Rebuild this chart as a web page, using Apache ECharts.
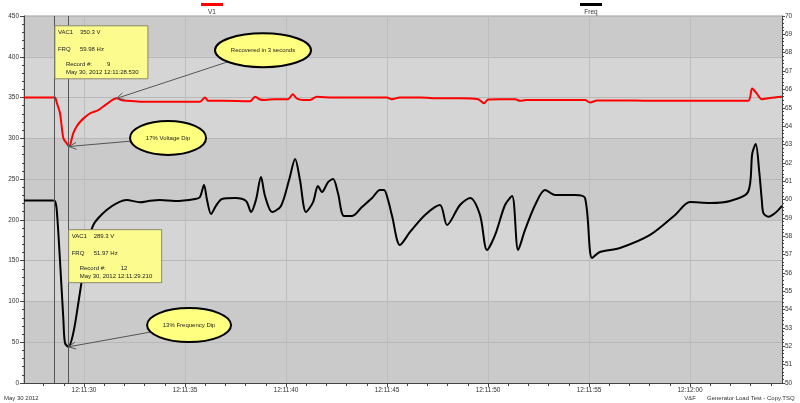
<!DOCTYPE html>
<html><head><meta charset="utf-8">
<script src="https://cdn.jsdelivr.net/npm/echarts@6/dist/echarts.min.js"></script>
<style>html,body{margin:0;padding:0;background:#fff}#c{width:800px;height:403px}</style>
</head><body><div id="c"></div>
<script>
// time values are seconds after 12:11:00 on May 30 2012
const xTickValues = [30, 35, 40, 45, 50, 55, 60];
const xTickLabels = ['12:11:30', '12:11:35', '12:11:40', '12:11:45', '12:11:50', '12:11:55', '12:12:00'];
const xMinorTicks = [28,29,31,32,33,34,36,37,38,39,41,42,43,44,46,47,48,49,51,52,53,54,56,57,58,59,61,62,63,64];
const seriesNames = ['V1', 'Freq'];

const v1Times = [27.03,28.42,28.56,28.66,28.81,28.98,29.14,29.26,29.47,29.65,29.80,30.05,30.30,30.71,31.12,31.62,31.83,32.11,32.77,33.76,34.75,35.74,35.99,36.14,36.88,38.22,38.47,38.71,38.96,39.46,40.10,40.33,40.53,40.84,41.19,41.52,42.33,43.66,45.00,45.23,45.64,46.63,47.62,48.61,49.50,49.80,50.00,50.59,51.34,51.58,51.88,52.57,53.56,54.80,55.05,55.40,56.53,58.02,59.50,60.99,62.87,63.07,63.27,63.55,63.96,64.55];
const v1Values = [350,350,350,343,331,300,294,290,306.5,315,320,326,330.7,334.7,342,349,347,346,345,345,345,345,350,346,346,345.5,351,347.6,347,348,348,354,349,347,347,351,350,350,350,348,350,350,349,349,348,343,347.6,348,348,346,347,347,347,347,344,346.4,346.5,346,346,346,346,361,356,348,349.5,351];

const freqTimes = [27.03,28.42,28.56,28.65,28.81,28.98,29.06,29.23,29.47,29.72,29.97,30.21,30.46,30.71,31.12,31.61,32.11,32.77,33.27,33.76,34.50,35.50,35.74,35.94,36.09,36.29,36.53,36.83,37.48,38.02,38.27,38.51,38.76,38.96,39.31,39.75,40.15,40.45,40.69,40.99,41.34,41.58,41.78,42.08,42.33,42.57,42.87,43.27,43.76,44.26,44.65,44.85,45.05,45.25,45.64,46.14,46.88,47.62,47.97,48.61,49.11,49.60,49.95,50.35,50.84,51.19,51.49,51.83,52.33,52.82,53.32,54.31,54.80,55.15,55.54,56.53,58.02,59.26,60.00,60.99,61.98,62.87,63.08,63.25,63.43,63.55,63.63,63.88,64.21,64.55];
const freqValues = [59.95,59.95,59.92,59.43,56.70,53.43,52.18,51.97,52.72,54.36,56.16,57.79,58.61,58.99,59.43,59.79,59.97,59.85,59.93,59.97,59.92,60.03,60.14,60.79,59.97,59.21,59.65,60.03,60.08,59.92,59.32,59.97,61.23,60.19,59.32,59.65,61.06,62.21,61.06,59.32,59.86,60.74,60.41,60.95,61.12,60.35,59.10,59.10,59.59,60.08,60.52,60.52,59.97,59.10,57.52,58.23,59.16,59.70,58.61,59.70,60.08,59.16,57.25,58.07,59.70,60.19,57.25,58.34,59.70,60.52,60.25,60.25,60.08,56.81,57.14,57.36,58.07,59.16,59.86,59.81,59.92,60.41,62.53,63.02,61.44,59.97,59.26,59.06,59.26,59.65];

const cursorTimes = [28.53, 29.21];
const readouts = [
  { vac: '350.3 V', frq: '59.98 Hz', rec: '9', stamp: 'May 30, 2012 12:11:28.530', at: [28.56, 438] },
  { vac: '289.3 V', frq: '51.97 Hz', rec: '12', stamp: 'May 30, 2012 12:11:29.210', at: [29.24, 188] }
];
const callouts = [
  { text: 'Recovered in 3 seconds', center: [38.86, 408], rx: 48, ry: 17, target: [31.62, 349], axis: 0 },
  { text: '17% Voltage Dip', center: [34.16, 300.5], rx: 38, ry: 17, target: [29.26, 290], axis: 0 },
  { text: '13% Frequency Dip', center: [35.2, 71], rx: 42, ry: 17, target: [29.23, 51.97], axis: 1 }
];
const legendColors = ['#ff0000', '#000000'];

const FONT = 'Liberation Sans';
const chart = echarts.init(document.getElementById('c'), null, { renderer: 'canvas' });

function zip(a, b) { return a.map((t, i) => [t, b[i]]); }

const labelStyle = { fontFamily: FONT, fontSize: 6.5, color: '#333' };
const DARK = '#cacaca', LIGHT = '#d5d5d5';

chart.setOption({
  animation: false,
  backgroundColor: '#ffffff',
  grid: { left: 24, right: 18, top: 16, bottom: 20, outerBoundsMode: 'none', containLabel: false,
    show: true, borderColor: '#9a9a9a', borderWidth: 1, backgroundColor: '#d2d2d2' },
  xAxis: [
    { type: 'value', min: 27.03, max: 64.55,
      axisLine: { lineStyle: { color: '#444' } },
      axisTick: { customValues: xTickValues, length: 4, lineStyle: { color: '#444' } },
      axisLabel: { customValues: xTickValues, ...labelStyle, margin: 4,
        formatter: v => xTickLabels[xTickValues.indexOf(Math.round(v))] || '' },
      splitLine: { show: true, lineStyle: { color: '#bdbdbd', width: 1 } } },
    { type: 'value', min: 27.03, max: 64.55, position: 'bottom',
      axisLine: { show: false },
      axisTick: { customValues: xMinorTicks, length: 3, lineStyle: { color: '#444' } },
      axisLabel: { show: false }, splitLine: { show: false } }
  ],
  yAxis: [
    { type: 'value', min: 0, max: 450, interval: 50, name: 'Voltage AC (V)', nameLocation: 'middle', nameGap: 16,
      nameTextStyle: { fontFamily: FONT, fontSize: 6.5, color: '#333' },
      axisLine: { show: true, lineStyle: { color: '#444' } },
      axisTick: { show: true, length: 4, lineStyle: { color: '#444' } },
      minorTick: { show: true, splitNumber: 5, length: 2, lineStyle: { color: '#444' } },
      axisLabel: { ...labelStyle, margin: 5 },
      splitLine: { show: true, lineStyle: { color: '#b8b8b8' } },
      splitArea: { show: true, areaStyle: { color: [DARK, DARK, LIGHT, LIGHT] } } },
    { type: 'value', min: 50, max: 70, interval: 1, name: 'Frequency (Hz)', nameLocation: 'middle', nameGap: 11, nameRotate: -90,
      nameTextStyle: { fontFamily: FONT, fontSize: 6.5, color: '#333' },
      axisLine: { show: true, lineStyle: { color: '#444' } },
      axisTick: { show: true, length: 3, lineStyle: { color: '#444' } },
      minorTick: { show: true, splitNumber: 5, length: 2, lineStyle: { color: '#444' } },
      axisLabel: { ...labelStyle, margin: 3 },
      splitLine: { show: false } }
  ],
  series: [
    { name: seriesNames[0], type: 'line', xAxisIndex: 0, yAxisIndex: 0, data: zip(v1Times, v1Values),
      showSymbol: false, smooth: 0.3, lineStyle: { color: legendColors[0], width: 2 }, z: 3,
      markLine: { silent: true, symbol: 'none', label: { show: false },
        lineStyle: { color: '#555', width: 1, type: 'solid' },
        data: cursorTimes.map(t => ({ xAxis: t })) } },
    { name: seriesNames[1], type: 'line', xAxisIndex: 0, yAxisIndex: 1, data: zip(freqTimes, freqValues),
      showSymbol: false, smooth: 0.3, lineStyle: { color: legendColors[1], width: 2 }, z: 3 }
  ]
});

function px(pt, axis) { return chart.convertToPixel({ xAxisIndex: 0, yAxisIndex: axis }, pt); }

const g = [];
// legend
const legendX = [212, 591];
seriesNames.forEach((n, i) => {
  g.push({ type: 'rect', shape: { x: legendX[i] - 11, y: 3, width: 22, height: 3 }, style: { fill: legendColors[i] } });
  g.push({ type: 'text', style: { text: n, x: legendX[i], y: 9, align: 'center', fontFamily: FONT, fontSize: 6.5, fill: '#333' } });
});
// readout boxes
readouts.forEach(r => {
  const p = px(r.at, 0);
  const x = p[0], y = p[1];
  g.push({ type: 'rect', shape: { x: x, y: y, width: 93, height: 53 }, style: { fill: '#fbfb8e', stroke: '#8a8a6a', lineWidth: 1 }, z: 10 });
  const ts = { fontFamily: FONT, fontSize: 6, fill: '#222', verticalAlign: 'middle' };
  g.push({ type: 'text', style: { ...ts, text: 'VAC1', x: x + 3, y: y + 7 }, z: 11 });
  g.push({ type: 'text', style: { ...ts, text: r.vac, x: x + 25, y: y + 7 }, z: 11 });
  g.push({ type: 'text', style: { ...ts, text: 'FRQ', x: x + 3, y: y + 24 }, z: 11 });
  g.push({ type: 'text', style: { ...ts, text: r.frq, x: x + 25, y: y + 24 }, z: 11 });
  g.push({ type: 'text', style: { ...ts, text: 'Record #:', x: x + 11, y: y + 38.5 }, z: 11 });
  g.push({ type: 'text', style: { ...ts, text: r.rec, x: x + 52, y: y + 38.5 }, z: 11 });
  g.push({ type: 'text', style: { ...ts, text: r.stamp, x: x + 11, y: y + 47 }, z: 11 });
});
// callouts
callouts.forEach(c => {
  const cp = px(c.center, 0);
  const tp = px(c.target, c.axis);
  const dx = tp[0] - cp[0], dy = tp[1] - cp[1];
  const k = 1 / Math.sqrt((dx * dx) / (c.rx * c.rx) + (dy * dy) / (c.ry * c.ry));
  const sx = cp[0] + dx * k, sy = cp[1] + dy * k;
  const ang = Math.atan2(tp[1] - sy, tp[0] - sx);
  const L = 8, a = 0.45;
  g.push({ type: 'line', shape: { x1: sx, y1: sy, x2: tp[0], y2: tp[1] }, style: { stroke: '#555', lineWidth: 1 }, z: 9 });
  g.push({ type: 'polyline', shape: { points: [
    [tp[0] - L * Math.cos(ang - a), tp[1] - L * Math.sin(ang - a)], [tp[0], tp[1]],
    [tp[0] - L * Math.cos(ang + a), tp[1] - L * Math.sin(ang + a)]] }, style: { stroke: '#555', lineWidth: 1, fill: null }, z: 9 });
  g.push({ type: 'ellipse', shape: { cx: cp[0], cy: cp[1], rx: c.rx, ry: c.ry }, style: { fill: '#ffff80', stroke: '#000', lineWidth: 2 }, z: 10 });
  g.push({ type: 'text', style: { text: c.text, x: cp[0], y: cp[1], align: 'center', verticalAlign: 'middle', fontFamily: FONT, fontSize: 6, fill: '#222' }, z: 11 });
});
// footer texts
const ft = { fontFamily: FONT, fontSize: 6, fill: '#333', verticalAlign: 'middle' };
g.push({ type: 'text', style: { ...ft, text: 'May 30 2012', x: 4, y: 398 } });
g.push({ type: 'text', style: { ...ft, text: 'V&F', x: 690, y: 398, align: 'center' } });
g.push({ type: 'text', style: { ...ft, text: 'Generator Load Test - Copy.TSQ', x: 707, y: 398 } });

chart.setOption({ graphic: g });
</script>
</body></html>
